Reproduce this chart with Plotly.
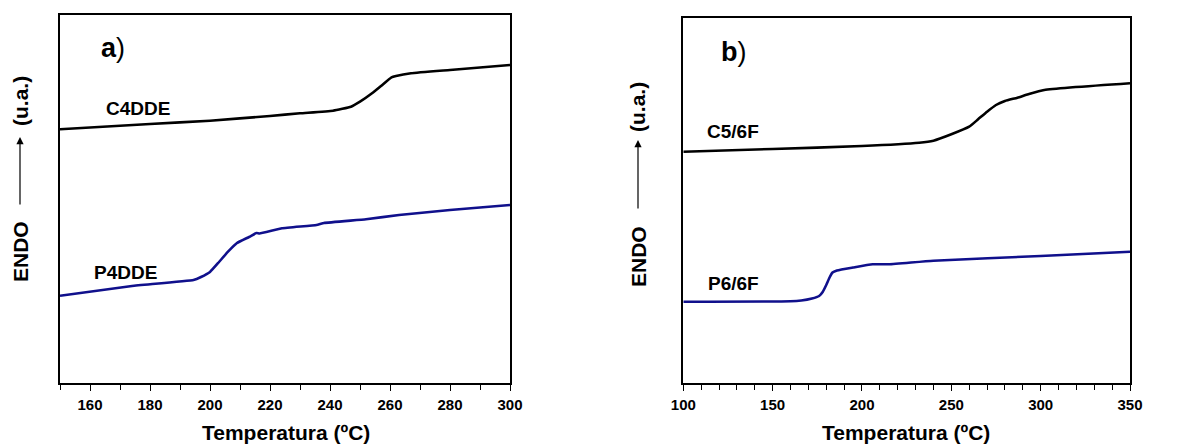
import plotly.graph_objects as go

# The page body adds an 8px margin; the figure is sized so it fills the rest of the window.
OFF = 8
W, H = 1179 - OFF, 448 - OFF

# ---- Panel a data (Temperatura ºC, ENDO u.a.) ----
c4dde_T = [150, 180, 200, 220, 230, 241, 247, 250, 254, 257, 260.5, 262, 267, 280, 300]
c4dde_v = [253.7, 259, 262.3, 267, 269.7, 272.3, 276.3, 281.3, 289.7, 297, 305.7, 307, 309.7, 313, 318]

p4dde_T = [150, 174, 194.5, 197, 200, 203, 206, 209, 213, 215.5, 216.5, 224, 235.5, 238, 252, 263, 280, 300]
p4dde_v = [87.3, 97, 103, 106, 111, 121, 131.3, 140, 146, 150, 149.5, 154.7, 158, 160, 163.7, 168, 173, 178]

# ---- Panel b data ----
c56f_T = [100, 150, 200, 232, 240, 250, 260, 265, 270, 275, 280, 287, 293, 302, 350]
c56f_v = [231.3, 234, 237, 240.3, 242.3, 248.7, 256.3, 263.7, 271.3, 278, 282, 285.3, 288.7, 293, 299.7]

p66f_T = [100, 160, 166, 172, 176, 178, 180, 182, 183.5, 186, 195, 206, 215, 240, 300, 350]
p66f_v = [81.3, 81.7, 82.5, 84.5, 87, 91, 98, 106, 110.5, 112.5, 115.5, 118.7, 118.7, 122.3, 127, 131.3]

xa_range = [150, 300]
xb_range = [100, 350]
ya_range = [0, 368]
yb_range = [0, 365]

BLACK = "#000000"
BLUE = "#10108c"
FONT = "Liberation Sans, Arial, sans-serif"

fig = go.Figure()
fig.add_trace(go.Scatter(x=c4dde_T, y=c4dde_v, mode="lines", line=dict(color=BLACK, width=2.6, shape="spline", smoothing=0.4), xaxis="x", yaxis="y"))
fig.add_trace(go.Scatter(x=p4dde_T, y=p4dde_v, mode="lines", line=dict(color=BLUE, width=2.6, shape="spline", smoothing=0.3), xaxis="x", yaxis="y"))
fig.add_trace(go.Scatter(x=c56f_T, y=c56f_v, mode="lines", line=dict(color=BLACK, width=2.6, shape="spline", smoothing=0.5), xaxis="x2", yaxis="y2"))
fig.add_trace(go.Scatter(x=p66f_T, y=p66f_v, mode="lines", line=dict(color=BLUE, width=2.6, shape="spline", smoothing=0.5), xaxis="x2", yaxis="y2"))

def px_x(p):
    return (p - OFF) / W

def px_y(p):
    return 1 - (p - OFF) / H

xcommon = dict(showgrid=False, zeroline=False, showline=True, linecolor="black", linewidth=1.5,
               mirror=True, ticks="outside", ticklen=6, tickwidth=1.3, tickcolor="black",
               tickfont=dict(family=FONT, size=15, color="black", weight="bold"),
               ticklabelstandoff=1, automargin=False)
ycommon = dict(showgrid=False, zeroline=False, showline=True, linecolor="black", linewidth=1.5,
               mirror=True, ticks="", showticklabels=False, automargin=False)

fig.update_layout(
    template="none",
    width=W, height=H, margin=dict(l=0, r=0, t=0, b=0, pad=0), autosize=False,
    paper_bgcolor="white", plot_bgcolor="white", showlegend=False,
    xaxis=dict(domain=[px_x(60), px_x(510)], range=xa_range, anchor="y",
               tickmode="linear", tick0=160, dtick=20,
               minor=dict(ticks="outside", ticklen=5, tickwidth=1.2, tickcolor="black", dtick=10, tick0=150),
               **xcommon),
    yaxis=dict(domain=[px_y(383), px_y(15)], range=ya_range, anchor="x", **ycommon),
    xaxis2=dict(domain=[px_x(683.3), px_x(1130)], range=xb_range, anchor="y2",
                tickmode="linear", tick0=100, dtick=50,
                minor=dict(ticks="outside", ticklen=5, tickwidth=1.2, tickcolor="black", dtick=10, tick0=100),
                **xcommon),
    yaxis2=dict(domain=[px_y(383), px_y(18)], range=yb_range, anchor="x2", **ycommon),
)

def ann(text, x, y, size, angle=0, xanchor="center", yanchor="middle", weight="bold"):
    fig.add_annotation(text=text, x=px_x(x), y=px_y(y), xref="paper", yref="paper",
                       showarrow=False, textangle=angle, xanchor=xanchor, yanchor=yanchor,
                       font=dict(family=FONT, size=size, color="black", weight=weight))

# x-axis titles
ann("Temperatura (ºC)", 286, 432, 21)
ann("Temperatura (ºC)", 906, 432, 21)

# y-axis titles: ENDO ---> (u.a.)
for xc, endo_y, arr_tail, arr_head, ua_y in [(20, 252, 206, 137, 101), (638, 257, 210, 140, 107)]:
    ann("ENDO", xc, endo_y, 21, angle=-90)
    ann("(u.a.)", xc, ua_y, 21, angle=-90)
    fig.add_annotation(x=px_x(xc), y=px_y(arr_head), xref="paper", yref="paper",
                       ax=0, ay=arr_tail - arr_head, axref="pixel", ayref="pixel",
                       showarrow=True, arrowhead=2, arrowsize=1.2, arrowwidth=1.2,
                       arrowcolor="black", text="")

# panel labels
ann("<b>a</b>)", 99, 48, 27, xanchor="left", weight="normal")
ann("<b>b</b>)", 719, 52, 27, xanchor="left", weight="normal")

# curve labels
ann("C4DDE", 104, 108, 19, xanchor="left")
ann("P4DDE", 92, 272, 19, xanchor="left")
ann("C5/6F", 705, 132, 19, xanchor="left")
ann("P6/6F", 706, 283, 19, xanchor="left")

fig.write_html("out.html")
